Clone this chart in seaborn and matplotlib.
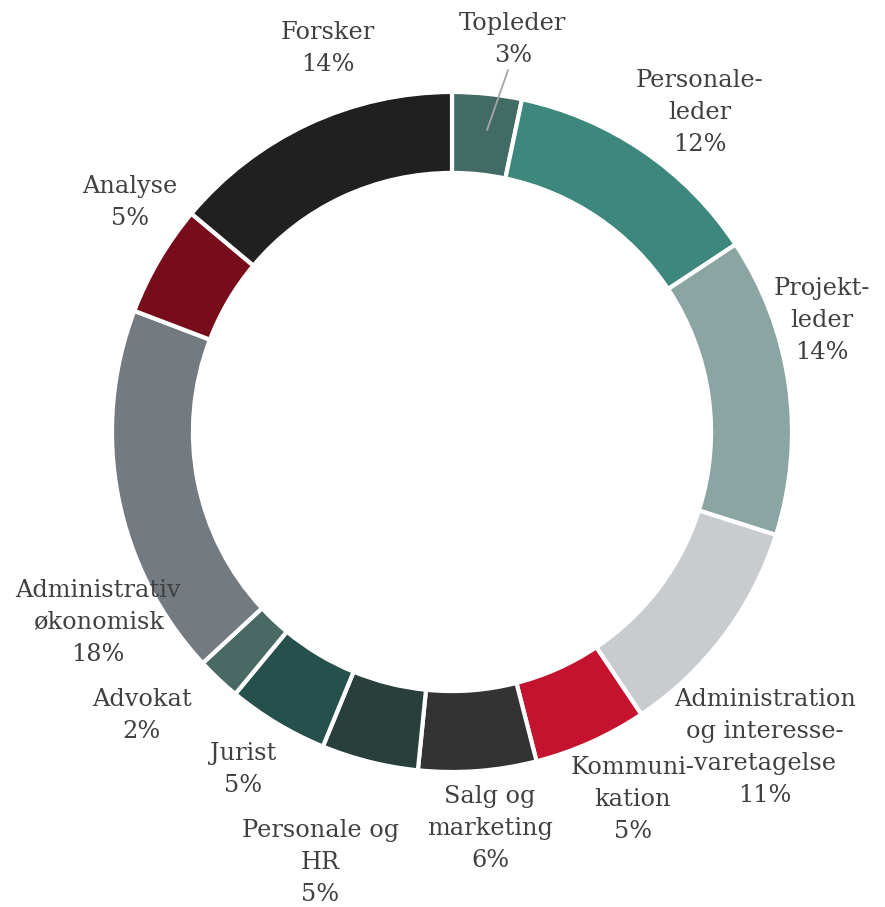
import matplotlib
matplotlib.use("Agg")
import matplotlib.pyplot as plt
import seaborn as sns

categories = ["Topleder", "Personale-\nleder", "Projekt-\nleder",
              "Administration\nog interesse-\nvaretagelse", "Kommuni-\nkation",
              "Salg og\nmarketing", "Personale og\nHR", "Jurist", "Advokat",
              "Administrativ\nøkonomisk", "Analyse", "Forsker"]
values = [3.3, 12.4, 14.2, 10.7, 5.4, 5.6, 4.6, 4.8, 2.1, 17.7, 5.3, 13.9]
pct_labels = ["3%", "12%", "14%", "11%", "5%", "6%", "5%", "5%", "2%", "18%", "5%", "14%"]
colors = ["#436b66", "#3e877d", "#8aa5a2", "#c9cccf", "#c4122f", "#333333",
          "#283f3b", "#26504b", "#4a6964", "#737a80", "#770c1b", "#202020"]
# label centre positions (layout, in pie-radius units)
label_pos = [(0.179, 1.153), (0.729, 0.941), (1.088, 0.329), (0.921, -0.929),
             (0.532, -1.082), (0.112, -1.165), (-0.388, -1.265), (-0.615, -0.994),
             (-0.912, -0.835), (-1.041, -0.559), (-0.947, 0.674), (-0.365, 1.129)]

sns.set_theme(style="white")
plt.rcParams["font.family"] = ["DejaVu Serif"]

W, H = 885, 907
fig = plt.figure(figsize=(W / 100, H / 100), dpi=100)
ax = fig.add_axes([0, 0, 1, 1])
cx, cy, R = 452, 432, 340

ax.pie(values, colors=colors, startangle=90, counterclock=False, radius=1,
       wedgeprops=dict(width=0.238, edgecolor="white", linewidth=3))

for cat, pct, (x, y) in zip(categories, pct_labels, label_pos):
    ax.text(x, y, f"{cat}\n{pct}", ha="center", va="center", fontsize=17.3,
            color="#404040", linespacing=1.5)

# leader line for Topleder
ax.plot([0.103, 0.165], [0.888, 1.065], color="#a6a6a6", lw=1.3)

ax.set_xlim(-cx / R, (W - cx) / R)
ax.set_ylim(-(H - cy) / R, cy / R)
ax.set_aspect("auto")
ax.axis("off")
fig.savefig("out.png", dpi=100)
